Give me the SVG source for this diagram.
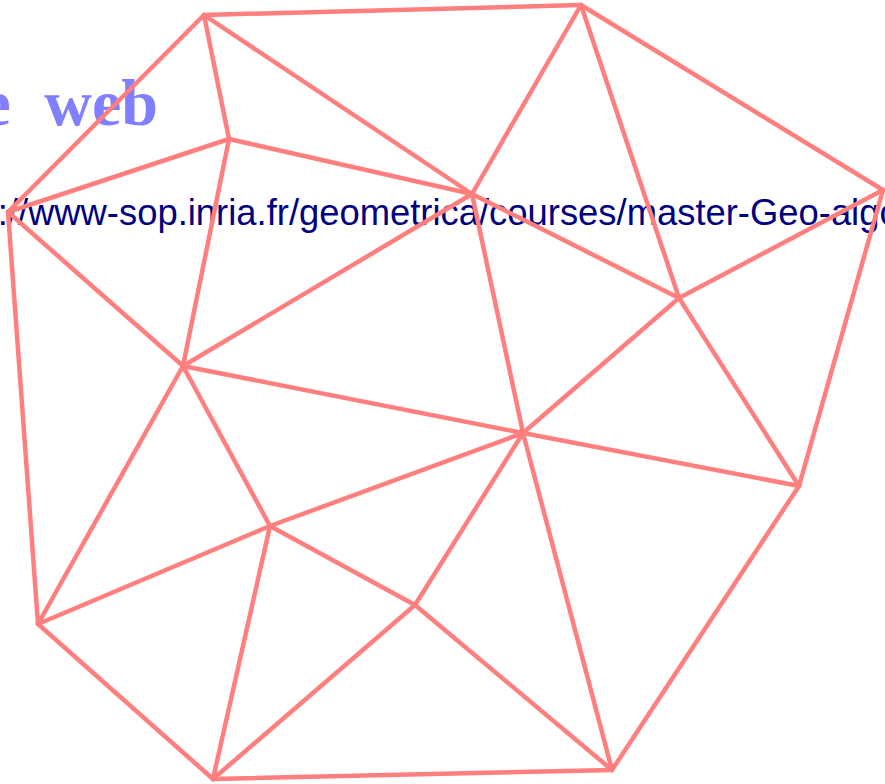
<svg xmlns="http://www.w3.org/2000/svg" width="885" height="784" viewBox="0 0 885 784">
<style>
.e{stroke:#ff7f7f;stroke-width:4.5;stroke-linecap:round;fill:none}
.t1{font-family:"Liberation Serif",serif;font-weight:bold;font-size:66px;fill:#7f7fff;word-spacing:17px}
.t2{font-family:"Liberation Sans",sans-serif;font-size:36.4px;fill:#000080}
</style>
<rect width="885" height="784" fill="#ffffff"/>
<g id="title"><text class="t1" x="158" y="125" text-anchor="end">e web</text></g>
<g id="url"><text class="t2" x="-63" y="225">http://www-sop.inria.fr/geometrica/courses/master-Geo-algo</text></g>
<g id="edges" class="e">
<line x1="204" y1="15" x2="581" y2="5"/>
<line x1="204" y1="15" x2="229" y2="139"/>
<line x1="204" y1="15" x2="472" y2="194"/>
<line x1="204" y1="15" x2="8" y2="212"/>
<line x1="581" y1="5" x2="472" y2="194"/>
<line x1="581" y1="5" x2="679" y2="298"/>
<line x1="581" y1="5" x2="883" y2="190"/>
<line x1="883" y1="190" x2="679" y2="298"/>
<line x1="883" y1="190" x2="799" y2="486"/>
<line x1="229" y1="139" x2="8" y2="212"/>
<line x1="229" y1="139" x2="472" y2="194"/>
<line x1="229" y1="139" x2="183" y2="366"/>
<line x1="472" y1="194" x2="183" y2="366"/>
<line x1="472" y1="194" x2="679" y2="298"/>
<line x1="472" y1="194" x2="523" y2="433"/>
<line x1="8" y1="212" x2="183" y2="366"/>
<line x1="8" y1="212" x2="38" y2="624"/>
<line x1="679" y1="298" x2="523" y2="433"/>
<line x1="679" y1="298" x2="799" y2="486"/>
<line x1="183" y1="366" x2="523" y2="433"/>
<line x1="183" y1="366" x2="38" y2="624"/>
<line x1="183" y1="366" x2="270" y2="526"/>
<line x1="523" y1="433" x2="799" y2="486"/>
<line x1="523" y1="433" x2="270" y2="526"/>
<line x1="523" y1="433" x2="415" y2="605"/>
<line x1="523" y1="433" x2="612" y2="770"/>
<line x1="799" y1="486" x2="612" y2="770"/>
<line x1="270" y1="526" x2="38" y2="624"/>
<line x1="270" y1="526" x2="415" y2="605"/>
<line x1="270" y1="526" x2="213" y2="779"/>
<line x1="38" y1="624" x2="213" y2="779"/>
<line x1="415" y1="605" x2="213" y2="779"/>
<line x1="415" y1="605" x2="612" y2="770"/>
<line x1="213" y1="779" x2="612" y2="770"/>
</g>
</svg>
